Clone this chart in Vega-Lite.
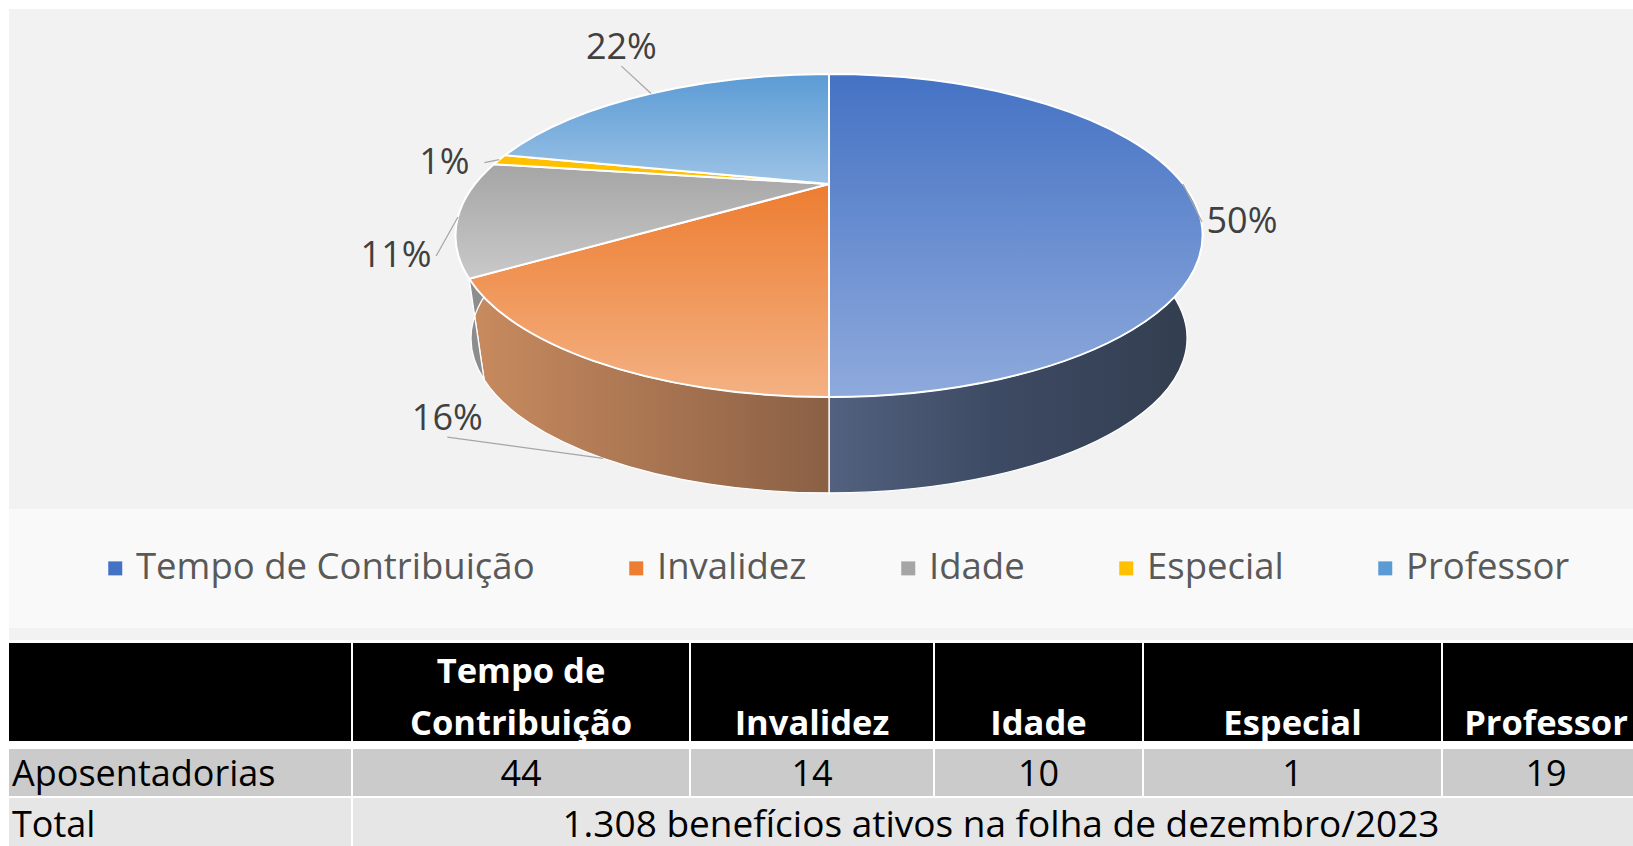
{
  "$schema": "https://vega.github.io/schema/vega-lite/v6.json",
  "background": "#ffffff",
  "padding": {"left": 9, "top": 9, "right": 0, "bottom": 0},
  "config": {"view": {"stroke": null}, "font": "Open Sans", "text": {"font": "Open Sans"}},
  "datasets": {
    "apos": [
      {"cat": "Tempo de Contribuição", "cabecalho": "Tempo de\nContribuição", "n": 44},
      {"cat": "Invalidez", "cabecalho": "Invalidez", "n": 14},
      {"cat": "Idade", "cabecalho": "Idade", "n": 10},
      {"cat": "Especial", "cabecalho": "Especial", "n": 1},
      {"cat": "Professor", "cabecalho": "Professor", "n": 19}
    ]
  },
  "data": {"name": "apos"},
  "spacing": 3,
  "vconcat": [
    {
      "bounds": "flush",
      "spacing": 0,
      "vconcat": [
        {
          "width": 1624,
          "height": 500,
          "view": {"fill": "#f2f2f2", "stroke": null},
          "transform": [{"stack": "n", "groupby": [], "as": ["s0", "s1"], "offset": "normalize"}],
          "layer": [
            {
              "mark": {
                "type": "point", "filled": true, "opacity": 1, "size": 4,
                "stroke": "#ffffff", "strokeWidth": 1.3,
                "shape": {"expr": "'M '+(8+354*sin(2*PI*datum.s0)/(1+0.3189*cos(2*PI*datum.s0)))+' '+(-75-145.08*cos(2*PI*datum.s0)/(1+0.3189*cos(2*PI*datum.s0)))+' A 373.5 161.5 0 0 1 '+(8+354*sin(PI*(datum.s0+datum.s1))/(1+0.3189*cos(PI*(datum.s0+datum.s1))))+' '+(-75-145.08*cos(PI*(datum.s0+datum.s1))/(1+0.3189*cos(PI*(datum.s0+datum.s1))))+' A 373.5 161.5 0 0 1 '+(8+354*sin(2*PI*datum.s1)/(1+0.3189*cos(2*PI*datum.s1)))+' '+(-75-145.08*cos(2*PI*datum.s1)/(1+0.3189*cos(2*PI*datum.s1)))+' L '+(8+339.3*sin(2*PI*datum.s1)/(1+0.3189*cos(2*PI*datum.s1)))+' '+(29.83-139.06*cos(2*PI*datum.s1)/(1+0.3189*cos(2*PI*datum.s1)))+' A 358 154.8 0 0 0 '+(8+339.3*sin(PI*(datum.s0+datum.s1))/(1+0.3189*cos(PI*(datum.s0+datum.s1))))+' '+(29.83-139.06*cos(PI*(datum.s0+datum.s1))/(1+0.3189*cos(PI*(datum.s0+datum.s1))))+' A 358 154.8 0 0 0 '+(8+339.3*sin(2*PI*datum.s0)/(1+0.3189*cos(2*PI*datum.s0)))+' '+(29.83-139.06*cos(2*PI*datum.s0)/(1+0.3189*cos(2*PI*datum.s0)))+' Z'"}
              },
              "encoding": {
                "fill": {
                  "condition": [
                    {"test": "datum.cat === 'Tempo de Contribuição'", "value": {"gradient": "linear", "x1": 0, "y1": 0, "x2": 1, "y2": 0, "stops": [{"offset": 0, "color": "#52617f"}, {"offset": 0.45, "color": "#3d4a63"}, {"offset": 1, "color": "#323d4e"}]}},
                    {"test": "datum.cat === 'Invalidez'", "value": {"gradient": "linear", "x1": 0, "y1": 0, "x2": 1, "y2": 0, "stops": [{"offset": 0, "color": "#c98b5f"}, {"offset": 1, "color": "#8a6045"}]}},
                    {"test": "datum.cat === 'Idade'", "value": "#8d8d8d"},
                    {"test": "datum.cat === 'Especial'", "value": "#c99800"},
                    {"test": "datum.cat === 'Professor'", "value": "#4a80b2"}
                  ],
                  "value": "#888888"
                }
              }
            },
            {
              "mark": {
                "type": "point", "filled": true, "opacity": 1, "size": 4,
                "stroke": "#ffffff", "strokeWidth": 2,
                "shape": {"expr": "'M 8 -75 L '+(8+354*sin(2*PI*datum.s0)/(1+0.3189*cos(2*PI*datum.s0)))+' '+(-75-145.08*cos(2*PI*datum.s0)/(1+0.3189*cos(2*PI*datum.s0)))+' A 373.5 161.5 0 0 1 '+(8+354*sin(PI*(datum.s0+datum.s1))/(1+0.3189*cos(PI*(datum.s0+datum.s1))))+' '+(-75-145.08*cos(PI*(datum.s0+datum.s1))/(1+0.3189*cos(PI*(datum.s0+datum.s1))))+' A 373.5 161.5 0 0 1 '+(8+354*sin(2*PI*datum.s1)/(1+0.3189*cos(2*PI*datum.s1)))+' '+(-75-145.08*cos(2*PI*datum.s1)/(1+0.3189*cos(2*PI*datum.s1)))+' Z'"}
              },
              "encoding": {
                "fill": {
                  "condition": [
                    {"test": "datum.cat === 'Tempo de Contribuição'", "value": {"gradient": "linear", "x1": 0, "y1": 0, "x2": 0, "y2": 1, "stops": [{"offset": 0, "color": "#4472c4"}, {"offset": 1, "color": "#8faadc"}]}},
                    {"test": "datum.cat === 'Invalidez'", "value": {"gradient": "linear", "x1": 0, "y1": 0, "x2": 0, "y2": 1, "stops": [{"offset": 0, "color": "#ed7d31"}, {"offset": 1, "color": "#f4b183"}]}},
                    {"test": "datum.cat === 'Idade'", "value": {"gradient": "linear", "x1": 0, "y1": 0, "x2": 0, "y2": 1, "stops": [{"offset": 0, "color": "#a5a5a5"}, {"offset": 1, "color": "#c9c9c9"}]}},
                    {"test": "datum.cat === 'Especial'", "value": "#ffc000"},
                    {"test": "datum.cat === 'Professor'", "value": {"gradient": "linear", "x1": 0, "y1": 0, "x2": 0, "y2": 1, "stops": [{"offset": 0, "color": "#5b9bd5"}, {"offset": 1, "color": "#9dc3e6"}]}}
                  ],
                  "value": "#999999"
                }
              }
            },
            {
              "mark": {
                "type": "point", "filled": false, "opacity": 1, "size": 4,
                "stroke": "#a6a6a6", "strokeWidth": 1.2,
                "shape": {"expr": "'M '+(cos(PI*(datum.s0+datum.s1))<-0.5?(8+339.3*sin(PI*(datum.s0+datum.s1))/(1+0.3189*cos(PI*(datum.s0+datum.s1)))):(8+354*sin(PI*(datum.s0+datum.s1))/(1+0.3189*cos(PI*(datum.s0+datum.s1)))))+' '+(cos(PI*(datum.s0+datum.s1))<-0.5?(29.83-139.06*cos(PI*(datum.s0+datum.s1))/(1+0.3189*cos(PI*(datum.s0+datum.s1)))):(-75-145.08*cos(PI*(datum.s0+datum.s1))/(1+0.3189*cos(PI*(datum.s0+datum.s1)))))+' L '+(abs(sin(PI*(datum.s0+datum.s1)))>0.7?(8+413*sin(PI*(datum.s0+datum.s1))/((1+0.3189*cos(PI*(datum.s0+datum.s1)))*(cos(PI*(datum.s0+datum.s1))<-0.5?(1+0.3189*cos(PI*(datum.s0+datum.s1))):1)))-(sin(PI*(datum.s0+datum.s1))>0?40:-40):(8+413*sin(PI*(datum.s0+datum.s1))/((1+0.3189*cos(PI*(datum.s0+datum.s1)))*(cos(PI*(datum.s0+datum.s1))<-0.5?(1+0.3189*cos(PI*(datum.s0+datum.s1))):1))))+' '+(abs(sin(PI*(datum.s0+datum.s1)))>0.7?(-75-225*cos(PI*(datum.s0+datum.s1))/max(1,1+0.3189*cos(PI*(datum.s0+datum.s1)))+20*(1-cos(PI*(datum.s0+datum.s1)))+18*max(0,sin(PI*(datum.s0+datum.s1)))):(-75-225*cos(PI*(datum.s0+datum.s1))/max(1,1+0.3189*cos(PI*(datum.s0+datum.s1)))+20*(1-cos(PI*(datum.s0+datum.s1)))+18*max(0,sin(PI*(datum.s0+datum.s1)))+18))"}
              },
              "encoding": {}
            },
            {
              "mark": {
                "type": "text", "font": "Open Sans", "fontSize": 36, "color": "#404040",
                "align": "center", "baseline": "middle",
                "dx": {"expr": "8+413*sin(PI*(datum.s0+datum.s1))/((1+0.3189*cos(PI*(datum.s0+datum.s1)))*(cos(PI*(datum.s0+datum.s1))<-0.5?(1+0.3189*cos(PI*(datum.s0+datum.s1))):1))"},
                "dy": {"expr": "-75-225*cos(PI*(datum.s0+datum.s1))/max(1,1+0.3189*cos(PI*(datum.s0+datum.s1)))+20*(1-cos(PI*(datum.s0+datum.s1)))+18*max(0,sin(PI*(datum.s0+datum.s1)))"},
                "text": {"expr": "format(datum.s1-datum.s0, '.0%')"}
              },
              "encoding": {}
            }
          ]
        },
        {
          "width": 1624,
          "height": 119,
          "view": {"fill": "#f9f9f9", "stroke": null},
          "mark": {"type": "point", "filled": true, "size": 0, "opacity": 1},
          "encoding": {
            "color": {
              "field": "cat", "type": "nominal",
              "scale": {
                "domain": ["Tempo de Contribuição", "Invalidez", "Idade", "Especial", "Professor"],
                "range": ["#4472c4", "#ed7d31", "#a5a5a5", "#ffc000", "#5b9bd5"]
              },
              "legend": {
                "title": null, "orient": "none", "legendX": 88, "legendY": 541,
                "direction": "horizontal", "columns": 5, "columnPadding": 83, "gridAlign": "each",
                "symbolType": "square", "symbolSize": 196, "symbolStrokeWidth": 0, "symbolOpacity": 1,
                "labelFont": "Open Sans", "labelFontSize": 36.5, "labelColor": "#595959",
                "labelOffset": 2.5, "labelLimit": 1000
              }
            }
          }
        },
        {
          "width": 1624,
          "height": 12,
          "view": {"fill": "#f2f2f2", "stroke": null},
          "data": {"values": []},
          "mark": "text"
        }
      ]
    },
    {
      "spacing": 7,
      "vconcat": [
        {
          "bounds": "flush",
          "spacing": 2,
          "hconcat": [
            {"width": 342, "height": 98, "view": {"fill": "#000000", "stroke": null}, "data": {"values": []}, "mark": "text"},
            {"width": 336, "height": 98, "view": {"fill": "#000000", "stroke": null},
             "transform": [{"filter": "datum.cat === 'Tempo de Contribuição'"}],
             "mark": {"type": "text", "fontSize": 34.5, "fontWeight": "bold", "color": "#ffffff", "lineBreak": "\n", "lineHeight": 52, "baseline": "alphabetic", "dy": -9},
             "encoding": {"text": {"field": "cabecalho"}}},
            {"width": 242, "height": 98, "view": {"fill": "#000000", "stroke": null},
             "transform": [{"filter": "datum.cat === 'Invalidez'"}],
             "mark": {"type": "text", "fontSize": 34.5, "fontWeight": "bold", "color": "#ffffff", "baseline": "alphabetic", "dy": 43},
             "encoding": {"text": {"field": "cabecalho"}}},
            {"width": 207, "height": 98, "view": {"fill": "#000000", "stroke": null},
             "transform": [{"filter": "datum.cat === 'Idade'"}],
             "mark": {"type": "text", "fontSize": 34.5, "fontWeight": "bold", "color": "#ffffff", "baseline": "alphabetic", "dy": 43},
             "encoding": {"text": {"field": "cabecalho"}}},
            {"width": 297, "height": 98, "view": {"fill": "#000000", "stroke": null},
             "transform": [{"filter": "datum.cat === 'Especial'"}],
             "mark": {"type": "text", "fontSize": 34.5, "fontWeight": "bold", "color": "#ffffff", "baseline": "alphabetic", "dy": 43},
             "encoding": {"text": {"field": "cabecalho"}}},
            {"width": 190, "height": 98, "view": {"fill": "#000000", "stroke": null},
             "transform": [{"filter": "datum.cat === 'Professor'"}],
             "mark": {"type": "text", "fontSize": 34.5, "fontWeight": "bold", "color": "#ffffff", "baseline": "alphabetic", "dy": 43, "dx": 8},
             "encoding": {"text": {"field": "cabecalho"}}}
          ]
        },
        {
          "spacing": 2,
          "vconcat": [
            {
              "bounds": "flush",
              "spacing": 2,
              "hconcat": [
                {"width": 342, "height": 47, "view": {"fill": "#cbcbcb", "stroke": null},
                 "data": {"values": [{"rotulo": "Aposentadorias"}]},
                 "mark": {"type": "text", "fontSize": 36, "color": "#000000", "align": "left", "baseline": "alphabetic", "dx": -168, "dy": 13.5},
                 "encoding": {"text": {"field": "rotulo"}}},
                {"width": 336, "height": 47, "view": {"fill": "#cbcbcb", "stroke": null},
                 "transform": [{"filter": "datum.cat === 'Tempo de Contribuição'"}],
                 "mark": {"type": "text", "fontSize": 36, "color": "#000000", "baseline": "alphabetic", "dy": 13.5},
                 "encoding": {"text": {"field": "n"}}},
                {"width": 242, "height": 47, "view": {"fill": "#cbcbcb", "stroke": null},
                 "transform": [{"filter": "datum.cat === 'Invalidez'"}],
                 "mark": {"type": "text", "fontSize": 36, "color": "#000000", "baseline": "alphabetic", "dy": 13.5},
                 "encoding": {"text": {"field": "n"}}},
                {"width": 207, "height": 47, "view": {"fill": "#cbcbcb", "stroke": null},
                 "transform": [{"filter": "datum.cat === 'Idade'"}],
                 "mark": {"type": "text", "fontSize": 36, "color": "#000000", "baseline": "alphabetic", "dy": 13.5},
                 "encoding": {"text": {"field": "n"}}},
                {"width": 297, "height": 47, "view": {"fill": "#cbcbcb", "stroke": null},
                 "transform": [{"filter": "datum.cat === 'Especial'"}],
                 "mark": {"type": "text", "fontSize": 36, "color": "#000000", "baseline": "alphabetic", "dy": 13.5},
                 "encoding": {"text": {"field": "n"}}},
                {"width": 190, "height": 47, "view": {"fill": "#cbcbcb", "stroke": null},
                 "transform": [{"filter": "datum.cat === 'Professor'"}],
                 "mark": {"type": "text", "fontSize": 36, "color": "#000000", "baseline": "alphabetic", "dy": 13.5, "dx": 8},
                 "encoding": {"text": {"field": "n"}}}
              ]
            },
            {
              "bounds": "flush",
              "spacing": 2,
              "hconcat": [
                {"width": 342, "height": 49, "view": {"fill": "#e6e6e6", "stroke": null},
                 "data": {"values": [{"rotulo": "Total"}]},
                 "mark": {"type": "text", "fontSize": 36, "color": "#000000", "align": "left", "baseline": "alphabetic", "dx": -168, "dy": 14.5},
                 "encoding": {"text": {"field": "rotulo"}}},
                {"width": 1280, "height": 49, "view": {"fill": "#e6e6e6", "stroke": null},
                 "data": {"values": [{"rotulo": "1.308 benefícios ativos na folha de dezembro/2023"}]},
                 "mark": {"type": "text", "fontSize": 37, "color": "#000000", "baseline": "alphabetic", "dx": 8, "dy": 14.5},
                 "encoding": {"text": {"field": "rotulo"}}}
              ]
            }
          ]
        }
      ]
    }
  ]
}
